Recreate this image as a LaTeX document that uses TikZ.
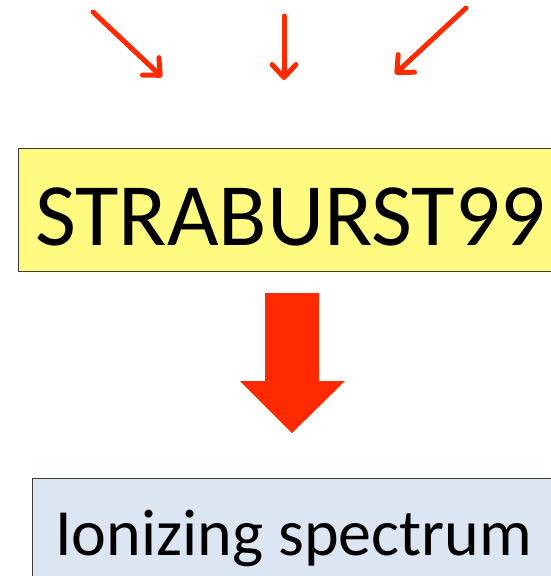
\documentclass[tikz,border=0pt]{standalone}
\usepackage{fontspec}
\setmainfont{Carlito}
\usetikzlibrary{arrows.meta}
\definecolor{arrred}{HTML}{FF2A00}
\definecolor{boxyellow}{HTML}{FFFA80}
\definecolor{boxblue}{HTML}{DCE6F2}
\definecolor{boxline}{HTML}{3A3A3A}
\tikzset{
  thinarrow/.style={draw=arrred, line width=5pt, line cap=round,
    -{Straight Barb[length=13pt, width=24pt, line width=5pt, round]}},
  boxstyle/.style={draw=boxline, line width=1.2pt, rectangle, anchor=north west, inner sep=0pt},
  bigtext/.style={anchor=base west, inner sep=0pt, font=\fontsize{89}{92}\selectfont},
  midtext/.style={anchor=base west, inner sep=0pt, font=\fontsize{66}{70}\selectfont},
}
\begin{document}
\begin{tikzpicture}[x=1pt, y=-1pt]
\useasboundingbox (0,0) rectangle (551,576);
\clip (0,0) rectangle (551,576);
% top arrows
\coordinate (l0) at (93,12);  \coordinate (l1) at (162,77);
\coordinate (m0) at (284,16); \coordinate (m1) at (284,80);
\coordinate (r0) at (466,8);  \coordinate (r1) at (395,74);
\draw[thinarrow] (l0) -- (l1);
\draw[thinarrow] (m0) -- (m1);
\draw[thinarrow] (r0) -- (r1);
% yellow box
\node[boxstyle, fill=boxyellow, minimum width=560pt, minimum height=123pt] (sb) at (18,148) {};
\node[bigtext] (sbt) at (35,245) {STRABURST99};
% big block arrow
\fill[arrred] (265,293) -- (319,293) -- (319,381) -- (345,381) -- (292,433) -- (240,381) -- (265,381) -- cycle;
% blue box
\node[boxstyle, fill=boxblue, minimum width=560pt, minimum height=120pt] (ion) at (32,478) {};
\node[midtext] (iont) at (55,555) {Ionizing spectrum};
\end{tikzpicture}
\end{document}
